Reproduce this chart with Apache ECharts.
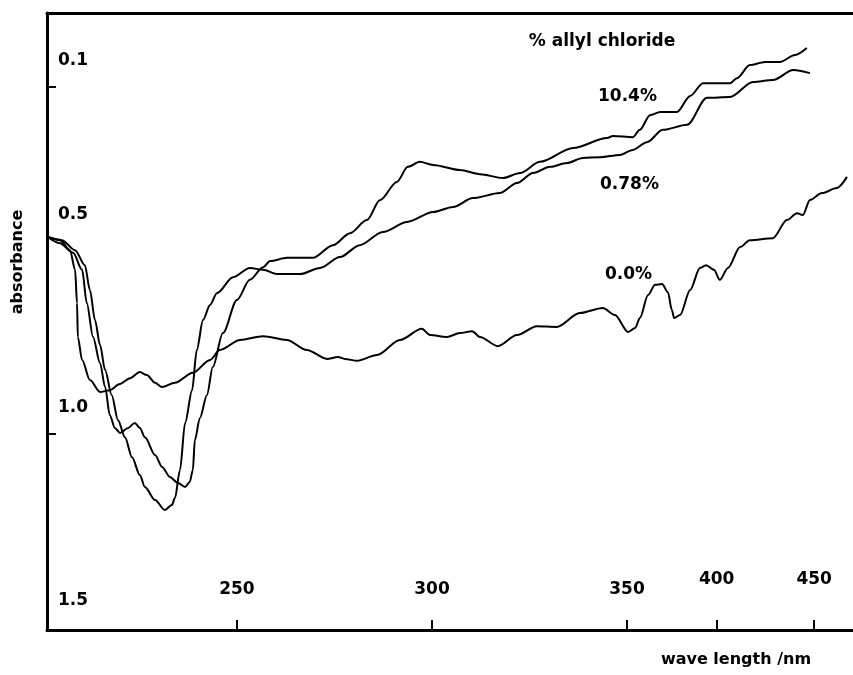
<!DOCTYPE html>
<html>
<head>
<meta charset="utf-8">
<script src="https://cdn.jsdelivr.net/npm/echarts@6/dist/echarts.min.js"></script>
<style>
html,body{margin:0;padding:0;background:#fff;}
#chart{width:853px;height:675px;}
</style>
</head>
<body>
<div id="chart"></div>
<script>
// ---- data (wavelength in nm, absorbance) ----
const wl10 = [201.5,204.6,208.0,210.3,211.5,213.1,214.9,216.2,217.4,218.7,220.0,222.1,223.8,225.1,226.4,229.0,230.8,232.8,234.9,236.7,237.9,238.7,239.2,240.5,242.3,243.8,246.4,250.0,253.3,256.7,258.5,262.8,269.5,274.6,279.0,283.3,286.7,291.0,293.8,296.9,300.3,307.2,312.3,318.2,322.6,327.7,336.2,344.9,346.4,351.5,353.3,355.9,358.5,362.8,366.2,369.5,376.4,378.2,381.5,385.4,389.2,393.1,396.1];
const ab10 = [0.491,0.507,0.532,0.576,0.662,0.750,0.818,0.880,0.953,0.986,0.999,0.986,0.973,0.986,1.010,1.056,1.087,1.113,1.129,1.139,1.126,1.095,1.018,0.960,0.901,0.828,0.740,0.654,0.602,0.569,0.553,0.545,0.545,0.512,0.481,0.447,0.395,0.348,0.309,0.296,0.304,0.317,0.328,0.338,0.325,0.296,0.260,0.234,0.229,0.232,0.213,0.175,0.167,0.167,0.125,0.092,0.092,0.079,0.045,0.037,0.037,0.019,0.001];

const wl078 = [201.5,205.1,208.5,211.0,212.3,213.6,214.9,216.2,217.9,219.5,221.3,223.1,225.1,226.4,229.0,231.5,233.3,234.1,235.4,236.7,238.5,239.7,241.3,243.1,244.9,249.0,253.3,256.7,260.3,266.2,271.3,276.4,281.5,287.4,293.6,300.3,305.4,310.5,317.4,321.8,325.9,330.3,334.6,338.7,343.1,348.2,351.5,355.1,359.2,365.4,370.5,376.4,382.3,387.4,392.6,396.9];
const ab078 = [0.491,0.499,0.525,0.564,0.628,0.706,0.771,0.836,0.901,0.966,1.010,1.062,1.108,1.139,1.173,1.199,1.186,1.168,1.095,0.973,0.888,0.784,0.706,0.667,0.636,0.595,0.571,0.576,0.587,0.587,0.571,0.543,0.512,0.478,0.452,0.426,0.413,0.390,0.377,0.351,0.325,0.309,0.299,0.286,0.284,0.278,0.265,0.245,0.213,0.200,0.130,0.128,0.089,0.084,0.058,0.066];

const wl00 = [201.5,204.6,207.2,208.5,209.0,209.2,210.3,212.3,214.9,217.4,220.0,222.6,225.1,226.9,229.0,230.8,234.1,238.7,243.1,245.6,250.8,256.7,262.8,267.9,273.1,275.9,277.7,280.8,285.9,291.8,297.4,299.5,303.8,307.2,310.3,312.3,316.9,321.8,326.9,332.0,337.9,343.8,346.9,350.3,352.1,353.3,355.4,357.2,359.0,360.5,361.5,362.1,363.6,366.2,368.7,370.3,372.3,373.8,375.9,379.0,381.5,387.4,391.0,393.6,395.1,396.9,400.0,403.8,406.4];
const ab00 = [0.491,0.499,0.525,0.576,0.662,0.750,0.810,0.862,0.893,0.888,0.872,0.857,0.841,0.849,0.869,0.880,0.869,0.843,0.810,0.784,0.758,0.748,0.758,0.784,0.807,0.802,0.807,0.812,0.797,0.758,0.729,0.745,0.750,0.740,0.735,0.750,0.774,0.745,0.722,0.724,0.688,0.675,0.693,0.737,0.727,0.701,0.641,0.615,0.613,0.634,0.680,0.701,0.693,0.628,0.571,0.564,0.576,0.602,0.571,0.517,0.499,0.494,0.447,0.429,0.434,0.395,0.377,0.364,0.335];

// tick positions on the wavelength axis and the labels printed at them
const xTickVals = [250, 300, 350, 373, 398];
const xTickLabels = ['250', '300', '350', '400', '450'];
// absorbance axis
const yTickVals = [0.1, 1.0];
const yLabelVals = [0.1, 0.5, 1.0, 1.5];
const yLabelTexts = ['0.1', '0.5', '1.0', '1.5'];

const seriesNames = ['10.4%', '0.78%', '0.0%'];
const seriesLabelTitle = '% allyl chloride';

function zip(xs, ys) { return xs.map((x, i) => [x, ys[i]]); }

const FONT = '"DejaVu Sans", "Liberation Sans", sans-serif';
const chart = echarts.init(document.getElementById('chart'));

const lineSeries = (name, xs, ys) => ({
  name: name,
  type: 'line',
  data: zip(xs, ys),
  showSymbol: false,
  symbol: 'none',
  smooth: 0.3,
  smoothMonotone: 'x',
  lineStyle: { color: '#000', width: 2 },
  silent: true
});

const option = {
  animation: false,
  backgroundColor: '#fff',
  grid: { left: 47, right: 0, top: 13, bottom: 45 },
  xAxis: [{
    type: 'value',
    position: 'bottom',
    min: 201.3,
    max: 407.95,
    axisLine: { onZero: false, lineStyle: { color: '#000', width: 3 } },
    axisTick: { inside: true, length: 10, customValues: xTickVals, lineStyle: { color: '#000', width: 2 } },
    axisLabel: {
      inside: true,
      margin: 32,
      customValues: xTickVals,
      color: '#000',
      fontFamily: FONT,
      fontWeight: 'bold',
      fontSize: 17,
      formatter: function (v) {
        const i = xTickVals.indexOf(v);
        const t = i >= 0 ? xTickLabels[i] : '';
        return i >= 3 ? '{hi|' + t + '}' : '{lo|' + t + '}';
      },
      rich: {
        lo: { color: '#000', fontFamily: FONT, fontWeight: 'bold', fontSize: 17 },
        hi: { color: '#000', fontFamily: FONT, fontWeight: 'bold', fontSize: 17, padding: [0, 0, 10, 0] }
      }
    },
    splitLine: { show: false }
  }, {
    type: 'value',
    position: 'top',
    min: 201.3,
    max: 407.95,
    axisLine: { onZero: false, lineStyle: { color: '#000', width: 3 } },
    axisTick: { show: false },
    axisLabel: { show: false },
    splitLine: { show: false }
  }],
  yAxis: {
    type: 'value',
    inverse: true,
    min: -0.09,
    max: 1.51,
    axisLine: { onZero: false, lineStyle: { color: '#000', width: 3 } },
    axisTick: { inside: true, length: 9, customValues: yTickVals, lineStyle: { color: '#000', width: 2 } },
    axisLabel: {
      inside: true,
      margin: 11,
      customValues: yLabelVals,
      color: '#000',
      fontFamily: FONT,
      fontWeight: 'bold',
      fontSize: 17,
      verticalAlign: 'bottom',
      padding: [0, 0, 17, 0],
      formatter: function (v) {
        const i = yLabelVals.indexOf(v);
        return i >= 0 ? yLabelTexts[i] : '';
      }
    },
    splitLine: { show: false }
  },
  series: [
    lineSeries(seriesNames[0], wl10, ab10),
    lineSeries(seriesNames[1], wl078, ab078),
    lineSeries(seriesNames[2], wl00, ab00)
  ],
  graphic: [
    { type: 'text', x: 18, y: 262, rotation: Math.PI / 2,
      style: { text: 'absorbance', font: 'bold 16px ' + FONT, fill: '#000', textAlign: 'center', textVerticalAlign: 'middle', align: 'center', verticalAlign: 'middle' } },
    { type: 'text', x: 736, y: 660,
      style: { text: 'wave length /nm', font: 'bold 16px ' + FONT, fill: '#000', textAlign: 'center', textVerticalAlign: 'middle', align: 'center', verticalAlign: 'middle' } },
    { type: 'text', x: 602, y: 42,
      style: { text: seriesLabelTitle, font: 'bold 17px ' + FONT, fill: '#000', textAlign: 'center', textVerticalAlign: 'middle', align: 'center', verticalAlign: 'middle' } },
    { type: 'text', x: 598, y: 97,
      style: { text: seriesNames[0], font: 'bold 17px ' + FONT, fill: '#000', textAlign: 'left', textVerticalAlign: 'middle', align: 'left', verticalAlign: 'middle' } },
    { type: 'text', x: 600, y: 185,
      style: { text: seriesNames[1], font: 'bold 17px ' + FONT, fill: '#000', textAlign: 'left', textVerticalAlign: 'middle', align: 'left', verticalAlign: 'middle' } },
    { type: 'text', x: 605, y: 275,
      style: { text: seriesNames[2], font: 'bold 17px ' + FONT, fill: '#000', textAlign: 'left', textVerticalAlign: 'middle', align: 'left', verticalAlign: 'middle' } }
  ]
};
chart.setOption(option);
</script>
</body>
</html>
